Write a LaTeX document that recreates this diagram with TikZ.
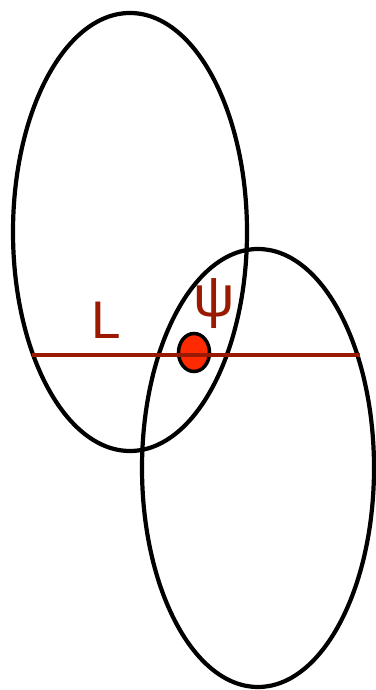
\documentclass[tikz,border=0pt]{standalone}
\usepackage{fontspec}
\setmainfont{Liberation Sans}
\usetikzlibrary{shapes.geometric}
\definecolor{lred}{HTML}{991A00}
\definecolor{dotred}{HTML}{FF2A00}
\begin{document}
\begin{tikzpicture}[x=1pt,y=1pt,
  ring/.style={draw=black,line width=4.2pt},
  lbl/.style={text=lred,inner sep=0pt}]
\useasboundingbox (0,0) rectangle (375,690);
\draw[ring] (130,458) ellipse [x radius=117, y radius=219];
\draw[ring] (258,222) ellipse [x radius=116, y radius=219];
\node[draw=black,fill=dotred,line width=3.5pt,ellipse,minimum width=31pt,minimum height=38pt,inner sep=0pt] (dot) at (194,337.5) {};
\coordinate (l0) at (32,335);
\coordinate (l1) at (360,335);
\draw[lred,line width=4pt] (l0) -- (l1);
\node[lbl,font=\fontsize{53}{53}\selectfont] (L) at (106.5,370) {L};
\node[lbl,font=\fontsize{58}{58}\selectfont] (psi) at (214,386) {ψ};
\end{tikzpicture}
\end{document}
